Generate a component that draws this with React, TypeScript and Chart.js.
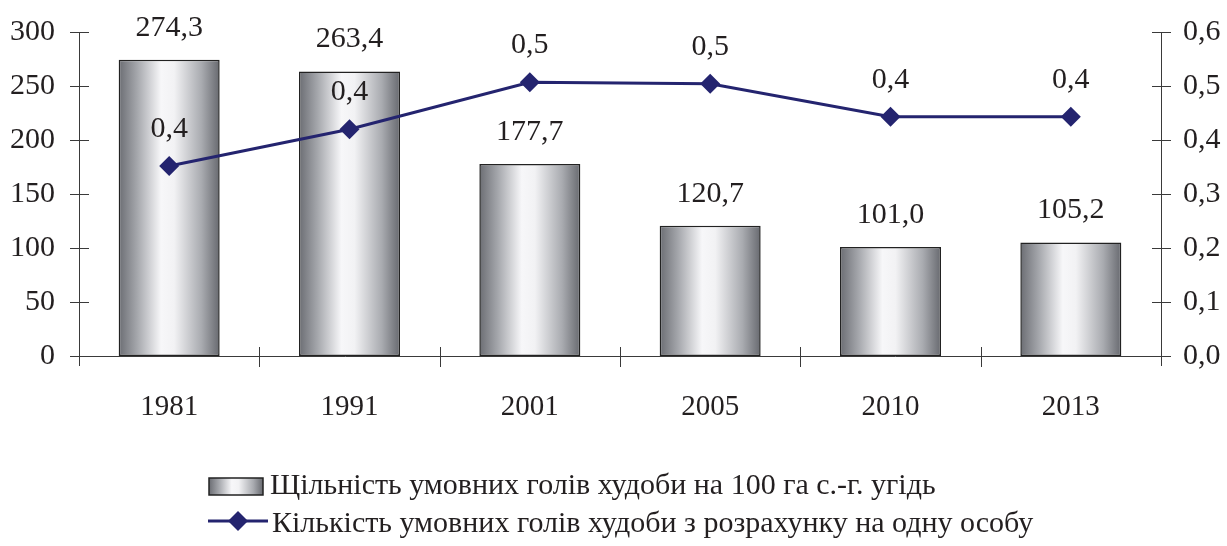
import React, { useEffect, useRef } from "react";
import { Chart, registerables } from "chart.js";

Chart.register(...registerables);

const years = ["1981", "1991", "2001", "2005", "2010", "2013"];
const density = [274.3, 263.4, 177.7, 120.7, 101.0, 105.2];
const perPerson = [0.352, 0.42, 0.507, 0.504, 0.443, 0.443];
const legendLabels = [
  "Щільність умовних голів худоби на 100 га с.-г. угідь",
  "Кількість умовних голів худоби з розрахунку на одну особу",
];

const W = 1227;
const H = 546;
const FONT = '"Liberation Serif", "Times New Roman", serif';
const TEXT = "#231f20";
const NAVY = "#24246f";
const BAR_PCT = 0.56;

function barGradient(ctx: CanvasRenderingContext2D, x0: number, x1: number) {
  const g = ctx.createLinearGradient(x0, 0, x1, 0);
  g.addColorStop(0, "#6b6d73");
  g.addColorStop(0.18, "#a4a6ab");
  g.addColorStop(0.42, "#f7f7f9");
  g.addColorStop(0.55, "#f2f2f4");
  g.addColorStop(0.82, "#a9abb0");
  g.addColorStop(1, "#67696f");
  return g;
}

const fmt = (v: number, d: number) => v.toFixed(d).replace(".", ",");

const axesPlugin = {
  id: "customAxes",
  beforeDatasetsDraw(chart: any) {
    const { ctx, chartArea, scales } = chart;
    const { left, right, bottom } = chartArea;
    ctx.save();
    ctx.strokeStyle = "#3a3a3a";
    ctx.lineWidth = 1;
    ctx.beginPath();
    ctx.moveTo(left + 0.5, chartArea.top);
    ctx.lineTo(left + 0.5, bottom + 10);
    ctx.moveTo(right + 0.5, chartArea.top);
    ctx.lineTo(right + 0.5, bottom + 10);
    ctx.moveTo(left - 9, bottom + 0.5);
    ctx.lineTo(right + 10, bottom + 0.5);
    const y = scales.y;
    y.ticks.forEach((t: any) => {
      const py = Math.round(y.getPixelForValue(t.value)) + 0.5;
      ctx.moveTo(left - 9, py);
      ctx.lineTo(left + 10, py);
    });
    const y1 = scales.y1;
    y1.ticks.forEach((t: any) => {
      const py = Math.round(y1.getPixelForValue(t.value)) + 0.5;
      ctx.moveTo(right - 9, py);
      ctx.lineTo(right + 10, py);
    });
    const step = (right - left) / years.length;
    for (let i = 1; i < years.length; i++) {
      const px = Math.round(left + step * i) + 0.5;
      ctx.moveTo(px, bottom - 9);
      ctx.lineTo(px, bottom + 11);
    }
    ctx.stroke();
    ctx.restore();
  },
  afterDatasetsDraw(chart: any) {
    const { ctx } = chart;
    ctx.save();
    ctx.font = `30px ${FONT}`;
    ctx.fillStyle = TEXT;
    ctx.textAlign = "center";
    ctx.textBaseline = "middle";
    const barMeta = chart.getDatasetMeta(1);
    barMeta.data.forEach((el: any, i: number) => {
      ctx.fillText(fmt(density[i], 1), el.x, el.y - 32);
    });
    const lineMeta = chart.getDatasetMeta(0);
    lineMeta.data.forEach((el: any, i: number) => {
      ctx.fillText(fmt(perPerson[i], 1), el.x, el.y - 37);
    });
    ctx.restore();
  },
  afterDraw(chart: any) {
    const { ctx } = chart;
    ctx.save();
    const bx0 = 209, by0 = 478, bw = 54, bh = 17;
    ctx.fillStyle = barGradient(ctx, bx0, bx0 + bw);
    ctx.fillRect(bx0, by0, bw, bh);
    ctx.strokeStyle = "#222";
    ctx.lineWidth = 1.5;
    ctx.strokeRect(bx0, by0, bw, bh);
    ctx.font = `30px ${FONT}`;
    ctx.fillStyle = TEXT;
    ctx.textAlign = "left";
    ctx.textBaseline = "alphabetic";
    ctx.fillText(legendLabels[0], 270, 494);
    ctx.strokeStyle = NAVY;
    ctx.lineWidth = 3;
    ctx.beginPath();
    ctx.moveTo(208, 521);
    ctx.lineTo(268, 521);
    ctx.stroke();
    ctx.fillStyle = NAVY;
    ctx.beginPath();
    ctx.moveTo(238, 511);
    ctx.lineTo(248, 521);
    ctx.lineTo(238, 531);
    ctx.lineTo(228, 521);
    ctx.closePath();
    ctx.fill();
    ctx.fillStyle = TEXT;
    ctx.fillText(legendLabels[1], 272, 532);
    ctx.restore();
  },
};

export default function App() {
  const ref = useRef<HTMLCanvasElement>(null);
  useEffect(() => {
    document.body.style.margin = "0";
    const canvas = ref.current!;
    const chart = new Chart(canvas, {
      type: "bar",
      data: {
        labels: years,
        datasets: [
          {
            type: "line",
            data: perPerson,
            yAxisID: "y1",
            borderColor: NAVY,
            backgroundColor: NAVY,
            borderWidth: 3,
            pointStyle: "rectRot",
            pointRadius: 10,
            pointHoverRadius: 10,
            pointBackgroundColor: NAVY,
            pointBorderColor: NAVY,
            pointBorderWidth: 0,
            tension: 0,
            order: 0,
          } as any,
          {
            type: "bar",
            data: density,
            yAxisID: "y",
            barPercentage: BAR_PCT,
            categoryPercentage: 1,
            borderColor: "#222",
            borderWidth: 1.5,
            borderSkipped: false,
            order: 1,
            backgroundColor: (c: any) => {
              const chart = c.chart;
              const xs = chart.scales.x;
              if (!xs || !chart.chartArea) return "#bbb";
              const cx = xs.getPixelForValue(c.dataIndex);
              const w = (xs.width / years.length) * BAR_PCT;
              return barGradient(chart.ctx, cx - w / 2, cx + w / 2);
            },
          } as any,
        ],
      },
      options: {
        responsive: false,
        animation: false,
        devicePixelRatio: 1,
        layout: { padding: { top: 32, left: 0, right: 0, bottom: 0 } },
        plugins: { legend: { display: false }, tooltip: { enabled: false } },
        scales: {
          x: {
            grid: { display: false, drawTicks: false },
            border: { display: false },
            ticks: { font: { family: FONT, size: 29 }, color: TEXT, padding: 34 },
            afterFit: (s: any) => {
              s.height = 190;
              s.paddingLeft = 0;
              s.paddingRight = 0;
            },
          },
          y: {
            position: "left",
            min: 0,
            max: 300,
            grid: { display: false, drawTicks: false },
            border: { display: false },
            ticks: { stepSize: 50, font: { family: FONT, size: 30 }, color: TEXT, padding: 24 },
            afterFit: (s: any) => {
              s.width = 79;
              s.paddingTop = 0;
              s.paddingBottom = 0;
            },
          },
          y1: {
            position: "right",
            min: 0,
            max: 0.6,
            grid: { display: false, drawTicks: false },
            border: { display: false },
            ticks: {
              stepSize: 0.1,
              font: { family: FONT, size: 30 },
              color: TEXT,
              padding: 22,
              callback: (v: any) => fmt(Number(v), 1),
            },
            afterFit: (s: any) => {
              s.width = 66;
              s.paddingTop = 0;
              s.paddingBottom = 0;
            },
          },
        },
      },
      plugins: [axesPlugin],
    });
    return () => chart.destroy();
  }, []);
  return (
    <div style={{ position: "fixed", left: 0, top: 0, width: W, height: H, background: "#fff" }}>
      <canvas ref={ref} width={W} height={H} style={{ display: "block" }} />
    </div>
  );
}
